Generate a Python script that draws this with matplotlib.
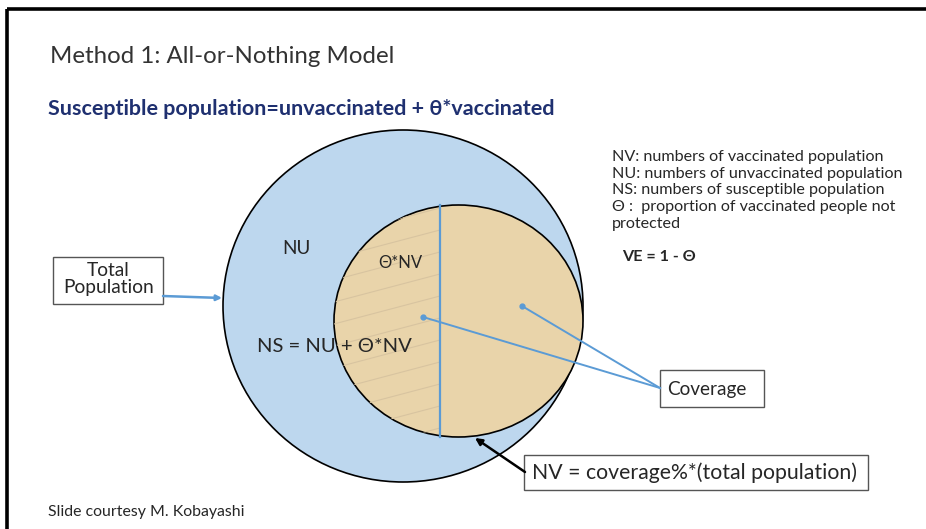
import matplotlib
matplotlib.use("Agg")
import matplotlib.pyplot as plt
from matplotlib.patches import Ellipse, Rectangle
import numpy as np

plt.rcParams['font.family'] = ['Lato', 'DejaVu Sans']

# ---- texts ----
title = "Method 1: All-or-Nothing Model"
subtitle = "Susceptible population=unvaccinated + \u03b8*vaccinated"
legend_lines = ["NV: numbers of vaccinated population",
                "NU: numbers of unvaccinated population",
                "NS: numbers of susceptible population",
                "\u0398 :  proportion of vaccinated people not",
                "protected"]
ve_text = "VE = 1 - \u0398"
region_labels = ["NU", "\u0398*NV", "NS = NU + \u0398*NV"]
box_labels = ["Total\nPopulation", "Coverage", "NV = coverage%*(total population)"]
footer = "Slide courtesy M. Kobayashi"

W, H = 926, 529
fig = plt.figure(figsize=(W / 100, H / 100), dpi=100)
ax = fig.add_axes([0, 0, 1, 1])
ax.set_xlim(0, W)
ax.set_ylim(H, 0)
ax.axis('off')
renderer = fig.canvas.get_renderer()

BLUE_FILL = '#bdd7ee'
TAN_FILL = '#e9d4aa'
LINE_BLUE = '#5b9bd5'
TXT = '#262626'


def fit_text(x, y, s, width, **kw):
    """Place text and scale its font so its rendered width matches `width` px."""
    t = ax.text(x, y, s, fontsize=10, **kw)
    bb = t.get_window_extent(renderer)
    t.set_fontsize(10 * width / bb.width)
    return t


# slide frame (top and left edges)
ax.plot([7, W], [9, 9], color='black', lw=2.6, solid_capstyle='butt')
ax.plot([7, 7], [9, H], color='black', lw=2.6, solid_capstyle='butt')

# titles
fit_text(50, 63, title, 345, color='#333333', va='baseline', ha='left')
fit_text(48, 115, subtitle, 507, color='#1f3070', weight='bold', va='baseline', ha='left')

# big circle
big = Ellipse((403, 306), 360, 352, facecolor=BLUE_FILL, edgecolor='black', lw=1.2, zorder=2)
ax.add_patch(big)

# inner circle
cx, cy, ew, eh = 458.5, 321, 249, 232
inner = Ellipse((cx, cy), ew, eh, facecolor=TAN_FILL, edgecolor='black', lw=1.2, zorder=3)
ax.add_patch(inner)

# faint hatch lines on left half (theta * NV)
for y0 in np.arange(200, 470, 22):
    ln, = ax.plot([334, 440], [y0 + 14, y0 - 14], color='#d8c4a0', lw=0.8, zorder=4)
    ln.set_clip_path(inner)

# vertical split line
ax.plot([440, 440], [205, 437], color=LINE_BLUE, lw=1.6, zorder=5)

# region labels
fit_text(296, 248, region_labels[0], 28, color=TXT, ha='center', va='center', zorder=6)
fit_text(400, 263, region_labels[1], 44, color=TXT, ha='center', va='center', zorder=6)
fit_text(334, 347, region_labels[2], 154, color=TXT, ha='center', va='center', zorder=6)

# Total Population box + arrow
ax.add_patch(Rectangle((53, 257), 110, 47, facecolor='white', edgecolor='#555555', lw=1.0, zorder=6))
fit_text(108.5, 279, box_labels[0], 91, color=TXT, ha='center', va='center',
         linespacing=0.95, zorder=7)
ax.annotate('', xy=(222, 298), xytext=(163, 296),
            arrowprops=dict(arrowstyle='-|>', color=LINE_BLUE, lw=1.8,
                            mutation_scale=8, shrinkA=0, shrinkB=0), zorder=7)

# Coverage box + lines
ax.add_patch(Rectangle((660, 370), 104, 37, facecolor='white', edgecolor='#555555', lw=1.0, zorder=6))
fit_text(707, 389, box_labels[1], 80, color=TXT, ha='center', va='center', zorder=7)
for (tx, ty) in [(423, 317), (522, 306)]:
    ax.plot([660, tx], [388, ty], color=LINE_BLUE, lw=1.4, zorder=6)
    ax.plot([tx], [ty], marker='o', ms=3.5, color=LINE_BLUE, zorder=6)

# NV box + arrow
ax.add_patch(Rectangle((524, 455), 344, 35, facecolor='white', edgecolor='#555555', lw=1.0, zorder=6))
fit_text(695, 472.5, box_labels[2], 326, color=TXT, ha='center', va='center', zorder=7)
ax.annotate('', xy=(475, 438), xytext=(525, 472),
            arrowprops=dict(arrowstyle='-|>', color='black', lw=1.8,
                            mutation_scale=10, shrinkA=0, shrinkB=0), zorder=7)

# legend text
ref = fit_text(612, 173, legend_lines[1], 291, color=TXT, ha='left', va='center')
fs = ref.get_fontsize()
ref.remove()
for i, s in enumerate(legend_lines):
    ax.text(612, 157 + i * 16.7, s, fontsize=fs, color=TXT, ha='left', va='center')
ax.text(622, 257, ve_text, fontsize=fs, color=TXT, weight='bold', ha='left', va='center')

# footer
fit_text(48, 512, footer, 197, color=TXT, ha='left', va='center')

fig.savefig('out.png', dpi=100)
